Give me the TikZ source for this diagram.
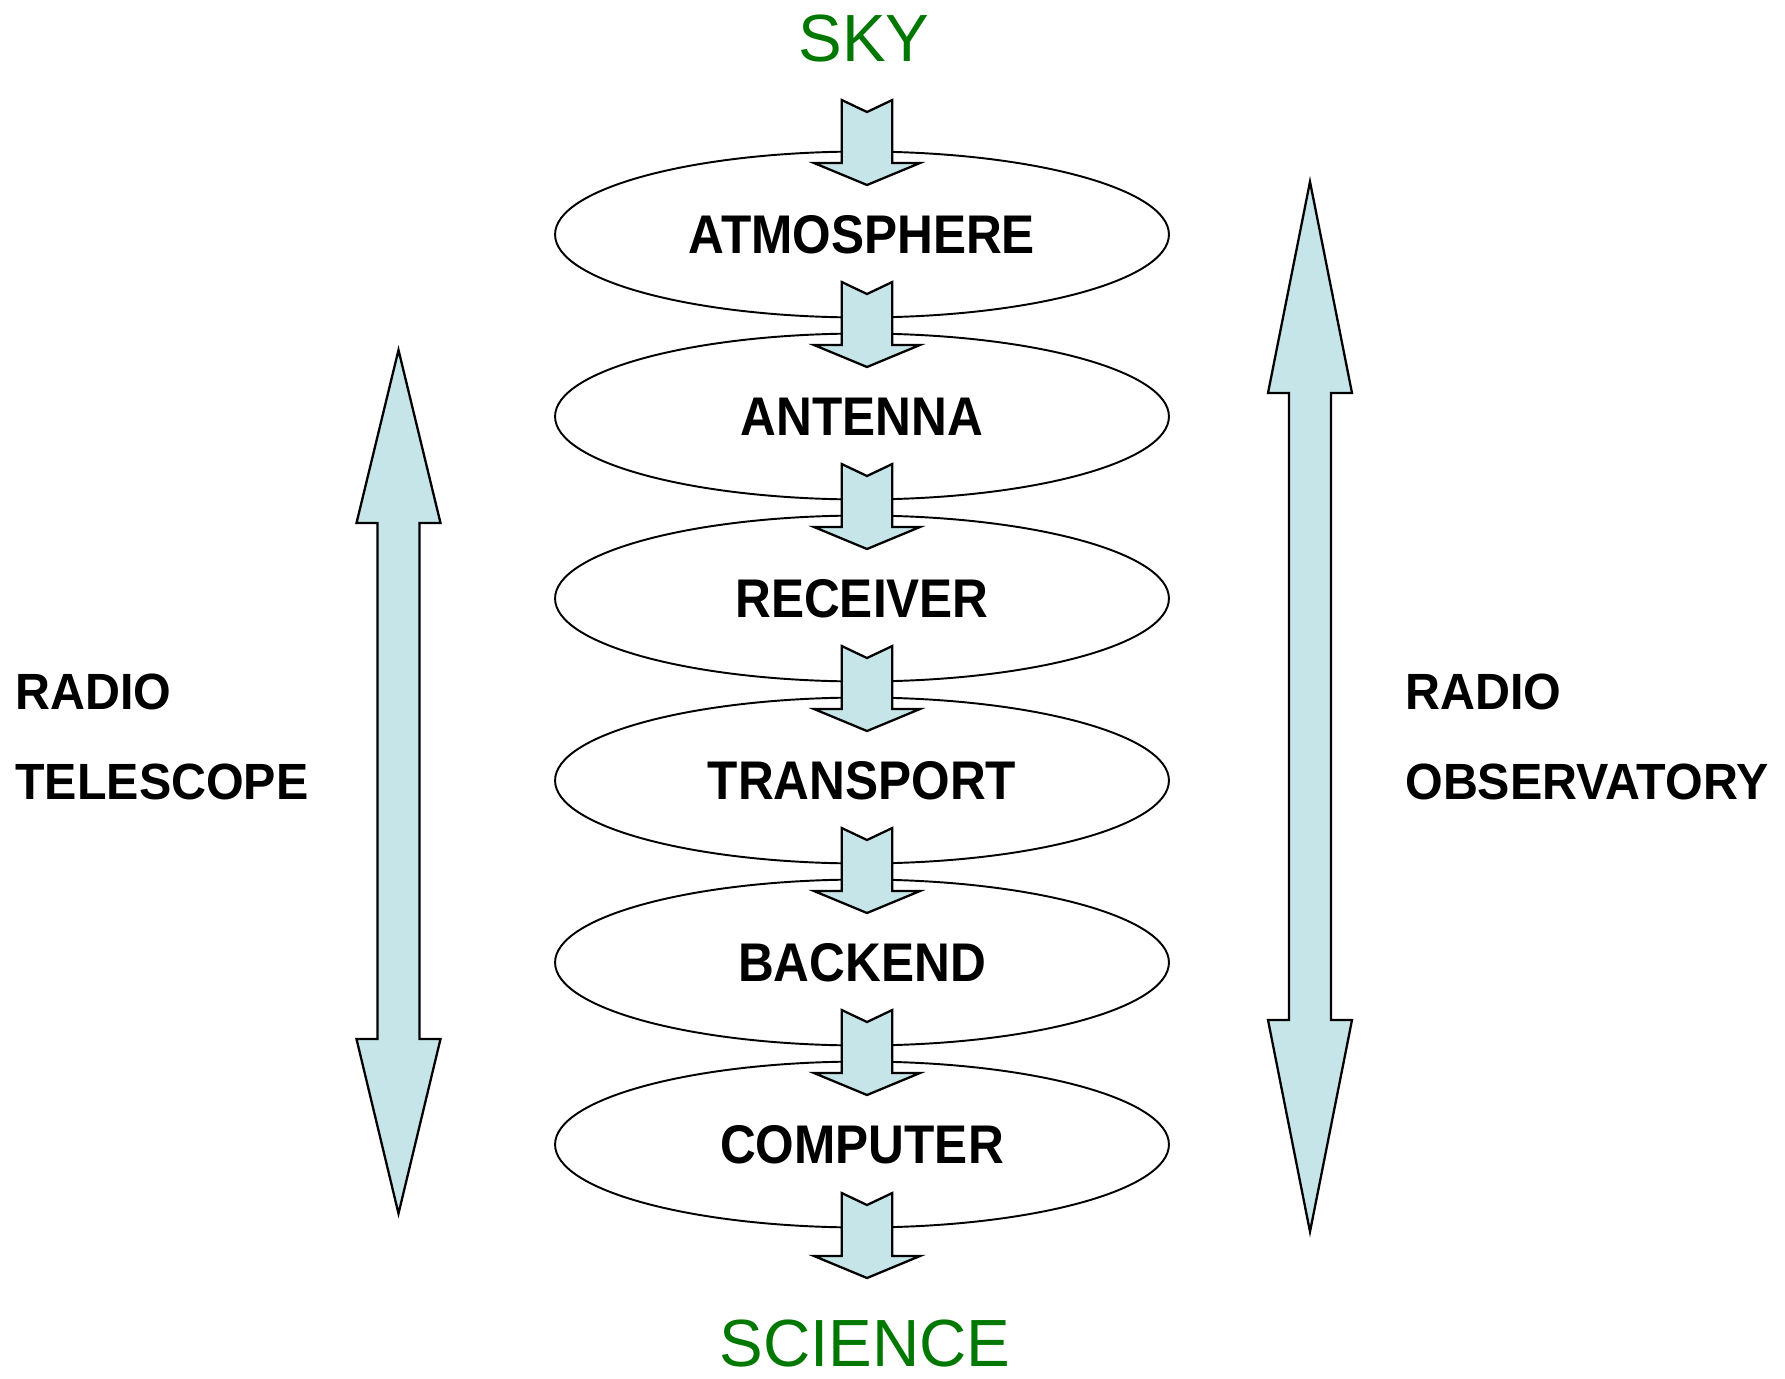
\documentclass[tikz,border=0pt]{standalone}
\usepackage{fontspec}
\setmainfont{Liberation Sans}
\newfontfamily\chainfont[FakeStretch=0.91]{Liberation Sans}
\newfontfamily\sidefont[FakeStretch=0.95]{Liberation Sans}
\newfontfamily\endfont[FakeStretch=0.98]{Liberation Sans}
\usetikzlibrary{shapes.geometric,calc}
\definecolor{pale}{RGB}{197,229,232}
\definecolor{skygreen}{RGB}{0,120,0}

\tikzset{
  stage/.style={draw,ellipse,line width=1.1pt,fill=white,
    minimum width=12.28cm,minimum height=3.32cm,inner sep=0pt,
    font=\chainfont\bfseries\fontsize{31}{31}\selectfont},
  endlabel/.style={text=skygreen,inner sep=0pt,
    font=\endfont\fontsize{38}{38}\selectfont},
  sidelabel/.style={anchor=west,inner sep=0pt,
    font=\sidefont\bfseries\fontsize{29}{29}\selectfont},
  arrowbox/.style={draw,fill=pale,line width=1.3pt,line join=miter},
  flowarrow/.pic={
    \path[arrowbox] (-25.3,85) -- (0,73) -- (25.3,85) -- (25.3,22)
      -- (53,22) -- (0,0) -- (-53,22) -- (-25.3,22) -- cycle;}
}
% x, top tip, top head base, bottom head base, bottom tip
\newcommand\bigarrow[5]{%
  \path[arrowbox] (#1,#2) -- (#1+42,#3) -- (#1+21,#3) -- (#1+21,#4)
    -- (#1+42,#4) -- (#1,#5) -- (#1-42,#4) -- (#1-21,#4)
    -- (#1-21,#3) -- (#1-42,#3) -- cycle;}

\begin{document}
\begin{tikzpicture}[x=0.02cm,y=0.02cm]
  \useasboundingbox (0,0) rectangle (1785,-1379);
  % signal chain
  \node[endlabel] (sky) at (864,-39) {SKY};
  \node[stage] (atm) at (862,-234.5) {ATMOSPHERE};
  \node[stage] (ant) at (862,-416.5) {ANTENNA};
  \node[stage] (rec) at (862,-598.5) {RECEIVER};
  \node[stage] (tra) at (862,-780.5) {TRANSPORT};
  \node[stage] (bac) at (862,-962.5) {BACKEND};
  \node[stage] (com) at (862,-1144.5) {COMPUTER};
  \node[endlabel] (science) at (865,-1344) {SCIENCE};
  \foreach \st in {atm,ant,rec,tra,bac,com}
    \pic at ($(\st.center)+(5,49.5)$) {flowarrow};
  \pic at ($(science.center)+(2,66)$) {flowarrow};
  % scope arrows
  \bigarrow{398.5}{-350}{-523}{-1039}{-1213.5}
  \bigarrow{1310}{-181.7}{-393}{-1020}{-1231.7}
  \node[sidelabel] (radl) at (15,-691.5) {RADIO};
  \node[sidelabel] (tel) at (15,-781.5) {TELESCOPE};
  \node[sidelabel] (radr) at (1405,-691.5) {RADIO};
  \node[sidelabel] (obs) at (1405,-781.5) {OBSERVATORY};
\end{tikzpicture}
\end{document}
